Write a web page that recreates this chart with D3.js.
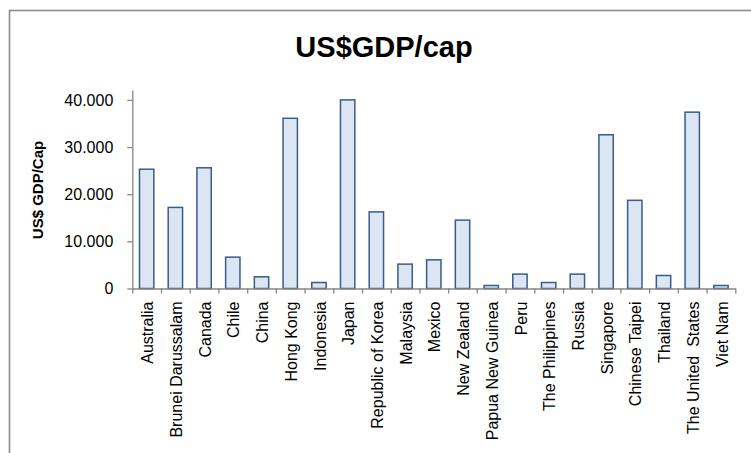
<!DOCTYPE html>
<html>
<head>
<meta charset="utf-8">
<script src="https://cdn.jsdelivr.net/npm/d3@7"></script>
<style>
  html, body { margin: 0; padding: 0; background: #fff; }
  svg { display: block; }
  text { font-family: "Liberation Sans", Arial, sans-serif; fill: #000; }
</style>
</head>
<body>
<svg id="chart" width="751" height="453"></svg>
<script>
const title = "US$GDP/cap";
const yAxisTitle = "US$ GDP/Cap";
const categories = ["Australia", "Brunei Darussalam", "Canada", "Chile", "China", "Hong Kong",
  "Indonesia", "Japan", "Republic of Korea", "Malaysia", "Mexico", "New Zealand",
  "Papua New Guinea", "Peru", "The Philippines", "Russia", "Singapore", "Chinese Taipei",
  "Thailand", "The United  States", "Viet Nam"];
const gdpPerCap = [25300, 17200, 25600, 6650, 2480, 36100, 1270, 40000, 16250, 5170, 6080,
  14500, 640, 3050, 1270, 3050, 32600, 18700, 2760, 37400, 640];
const yTicks = [0, 10000, 20000, 30000, 40000];
const yMax = 42100;

const svg = d3.select("#chart");
const plot = { left: 132.3, right: 735.3, top: 90, bottom: 288.5 };

// chart frame (clipped at right & bottom like the reference)
svg.append("rect")
  .attr("x", 9.5).attr("y", 10.5)
  .attr("width", 800).attr("height", 500)
  .attr("fill", "none").attr("stroke", "#8a8a8a").attr("stroke-width", 1.6);

svg.append("text")
  .attr("x", 384).attr("y", 57)
  .attr("text-anchor", "middle")
  .attr("font-size", 29).attr("font-weight", "bold")
  .text(title);

const x = d3.scaleBand()
  .domain(categories)
  .range([plot.left, plot.right])
  .paddingInner(0.5).paddingOuter(0.25);

const y = d3.scaleLinear().domain([0, yMax]).range([plot.bottom, plot.top]);

const locale = d3.formatLocale({ decimal: ",", thousands: ".", grouping: [3], currency: ["", ""] });
const fmt = locale.format(",d");

// y axis
const yAxis = svg.append("g")
  .attr("transform", `translate(${plot.left},0)`)
  .call(d3.axisLeft(y).tickValues(yTicks).tickFormat(fmt).tickSize(5).tickSizeOuter(0).tickPadding(14));
yAxis.select(".domain").attr("stroke", "#868686").attr("stroke-width", 1.3);
yAxis.selectAll(".tick line").attr("stroke", "#868686").attr("stroke-width", 1.3);
yAxis.selectAll(".tick text")
  .attr("font-family", "Liberation Sans, Arial, sans-serif")
  .attr("font-size", 16).attr("fill", "#000");

// bars
svg.append("g").selectAll("rect")
  .data(categories)
  .join("rect")
  .attr("x", d => x(d))
  .attr("width", x.bandwidth())
  .attr("y", (d, i) => y(gdpPerCap[i]))
  .attr("height", (d, i) => y(0) - y(gdpPerCap[i]))
  .attr("fill", "#dce6f2")
  .attr("stroke", "#385d8a")
  .attr("stroke-width", 1.5);

// x axis: ticks at category boundaries
const xb = d3.scaleLinear().domain([0, categories.length]).range([plot.left, plot.right]);
const xAxis = svg.append("g")
  .attr("transform", `translate(0,${plot.bottom})`)
  .call(d3.axisBottom(xb).tickValues(d3.range(categories.length + 1)).tickFormat("").tickSize(5).tickSizeOuter(0));
xAxis.select(".domain").attr("stroke", "#868686").attr("stroke-width", 1.3);
xAxis.selectAll(".tick line").attr("stroke", "#868686").attr("stroke-width", 1.3);

// category labels
svg.append("g").selectAll("text")
  .data(categories)
  .join("text")
  .attr("transform", d => `translate(${x(d) + x.bandwidth() / 2 + 1},${plot.bottom + 13}) rotate(-90)`)
  .attr("text-anchor", "end")
  .attr("dy", "0.35em")
  .attr("font-size", 16)
  .style("white-space", "pre")
  .text(d => d);

// y axis title
svg.append("text")
  .attr("transform", `translate(38,190) rotate(-90)`)
  .attr("text-anchor", "middle")
  .attr("dy", "0.35em")
  .attr("font-size", 15).attr("font-weight", "bold")
  .text(yAxisTitle);
</script>
</body>
</html>
